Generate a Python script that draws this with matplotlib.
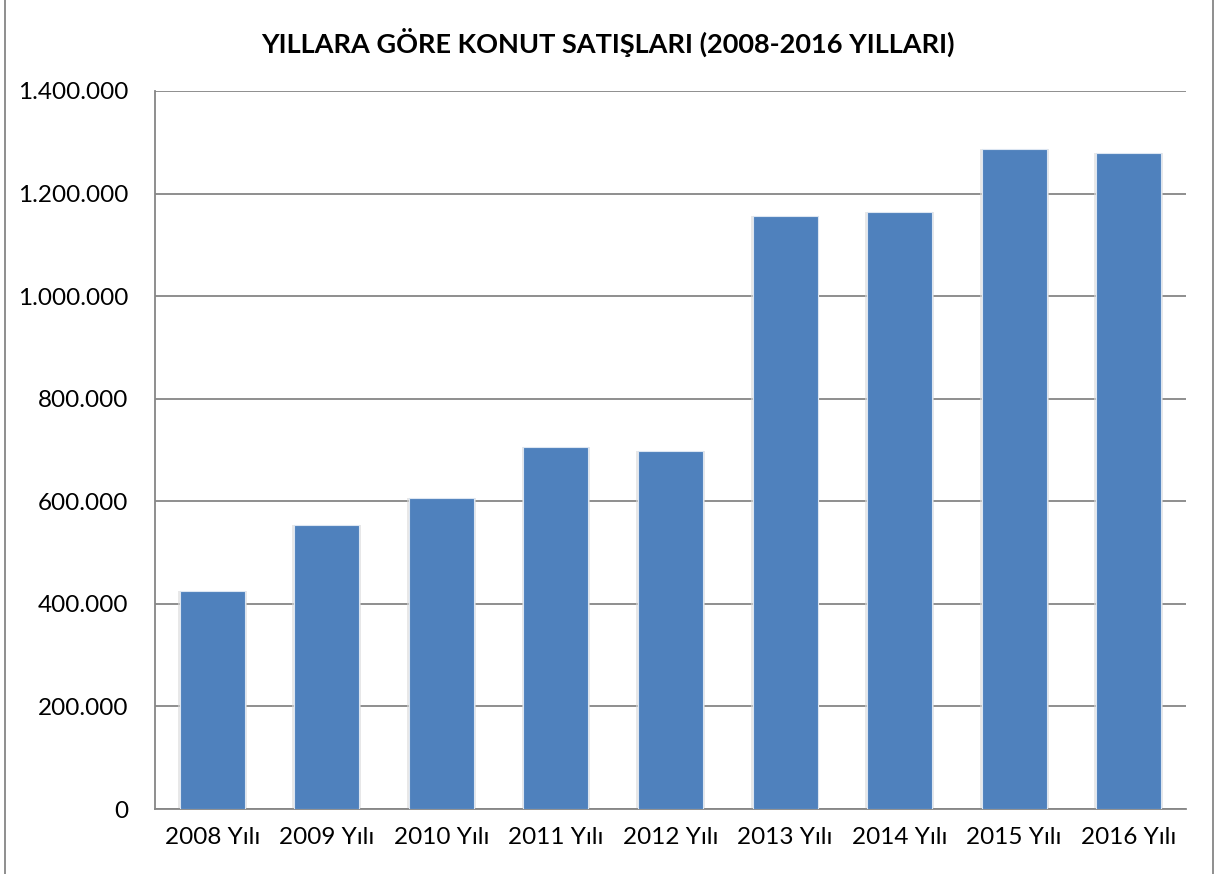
import matplotlib.pyplot as plt
from matplotlib.lines import Line2D
from matplotlib.ticker import FuncFormatter

plt.rcParams['font.family'] = ['Lato', 'DejaVu Sans']

years = ['2008 Yılı', '2009 Yılı', '2010 Yılı', '2011 Yılı', '2012 Yılı',
         '2013 Yılı', '2014 Yılı', '2015 Yılı', '2016 Yılı']
sales = [425000, 554000, 606000, 706000, 699000, 1156000, 1164000, 1287000, 1280000]
title = 'YILLARA GÖRE KONUT SATIŞLARI (2008-2016 YILLARI)'

fig = plt.figure(figsize=(12.15, 8.74), dpi=100)
ax = fig.add_axes([155/1215, 1 - 809/874, (1186-155)/1215, (809-91)/874])

x = range(len(years))
# soft shadow behind the bars
ax.bar(x, sales, width=0.60, color='#d9d9d9', alpha=0.6, zorder=2)
ax.bar(x, sales, width=0.567, color='#4F81BD', edgecolor='#dce6f2', lw=0.8, zorder=3)

ax.set_xlim(-0.5, len(years) - 0.5)
ax.set_ylim(0, 1400000)
ax.set_yticks(range(0, 1400001, 200000))
ax.yaxis.set_major_formatter(FuncFormatter(lambda v, p: f'{int(v):,}'.replace(',', '.')))
ax.set_xticks(list(x))
ax.set_xticklabels(years)
ax.tick_params(length=0, labelsize=17.5, colors='black')
ax.tick_params(axis='y', pad=19)
ax.tick_params(axis='x', pad=13)
ax.grid(axis='y', color='#868686', lw=1.3, zorder=1)
ax.set_axisbelow(True)
for s in ['top', 'right']:
    ax.spines[s].set_visible(False)
for s in ['left', 'bottom']:
    ax.spines[s].set_color('#868686')
    ax.spines[s].set_linewidth(1.3)

fig.text(0.5, 1 - 42/874, title, ha='center', va='center', fontsize=19.5, fontweight='bold')

# outer chart frame (left and right edges visible)
fig.add_artist(Line2D([4.5/1215, 4.5/1215], [0, 1], color='#868686', lw=1.3))
fig.add_artist(Line2D([1212.5/1215, 1212.5/1215], [0, 1], color='#868686', lw=1.3))

plt.savefig('out.png', dpi=100)
